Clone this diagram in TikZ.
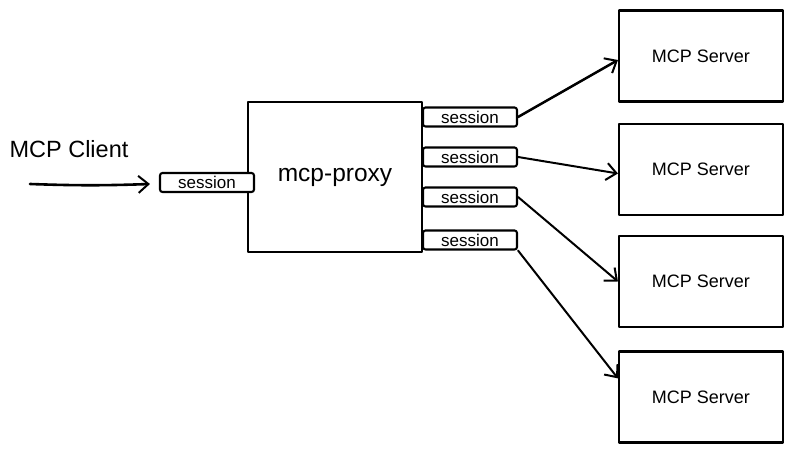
\documentclass[tikz,border=0pt]{standalone}
\usepackage{fontspec}
\setmainfont{Liberation Sans}
\usetikzlibrary{arrows.meta,calc}
\tikzset{
  box/.style={draw=black, line width=2.1pt, line join=round, fill=white, inner sep=0pt},
  sessbox/.style={box, rounded corners=2.5pt, minimum width=94pt, minimum height=19pt,
    font=\fontsize{17}{19}\selectfont},
  srvbox/.style={box, minimum width=164pt, minimum height=91pt,
    font=\fontsize{18}{21}\selectfont},
  conn/.style={draw=black, line width=2pt, line cap=round,
    -{Straight Barb[length=10pt,width=17pt,line width=2pt]}},
}
\begin{document}
\begin{tikzpicture}[x=1pt,y=-1pt]
\useasboundingbox (0,0) rectangle (793,454);
\fill[white] (0,0) rectangle (793,454);
% proxy
\node[box, minimum width=174pt, minimum height=150pt, font=\fontsize{24.5}{28}\selectfont] (proxy) at (335,177) {mcp-proxy};
% client label
\node[inner sep=0pt, font=\fontsize{23.5}{27}\selectfont] (client) at (69,149) {MCP Client};
% sessions
\node[sessbox] (ls) at (207,182.5) {session};
\node[sessbox] (s1) at (470,117) {session};
\node[sessbox] (s2) at (470,157) {session};
\node[sessbox] (s3) at (470,197) {session};
\node[sessbox] (s4) at (470,240) {session};
% servers
\node[srvbox] (m1) at (701,56) {MCP Server};
\node[srvbox] (m2) at (701,169.5) {MCP Server};
\node[srvbox] (m3) at (701,281.5) {MCP Server};
\node[srvbox] (m4) at (701,397) {MCP Server};
% connectors
\coordinate (cstart) at (30,184);
\draw[conn, line width=2.6pt] (cstart) to[bend right=2] ([xshift=-9pt,yshift=-1.5pt]ls.west);
\draw[conn, line width=2.5pt] (s1.east) -- ([yshift=-4pt]m1.west);
\draw[conn] (s2.east) -- ([yshift=-4pt]m2.west);
\draw[conn] (s3.east) -- (m3.west);
\draw[conn] (s4.south east) -- ($(m4.north west)!0.3!(m4.south west)$);
\end{tikzpicture}
\end{document}
